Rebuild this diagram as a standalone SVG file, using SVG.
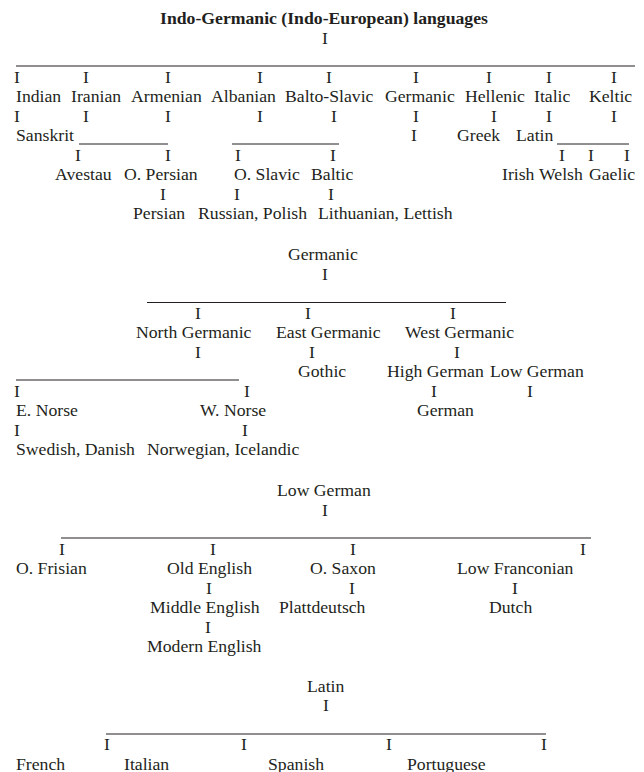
<svg xmlns="http://www.w3.org/2000/svg" width="644" height="772" viewBox="0 0 644 772">
<style>
text{font-family:"Liberation Serif","Times New Roman",serif;font-size:17.7px;fill:#231f20}
.t{font-weight:bold}
.c{text-anchor:middle}
line{stroke:#231f20;stroke-width:1}
</style>
<rect width="644" height="772" fill="#fff"/>
<g id="connectors">
<!-- tree 1 -->
<text class="c" x="325" y="43.5">I</text>
<line x1="16" y1="66" x2="635" y2="66"/>
<text class="c" x="17" y="82.5">I</text><text class="c" x="86" y="82.5">I</text><text class="c" x="168" y="82.5">I</text><text class="c" x="260" y="82.5">I</text><text class="c" x="329" y="82.5">I</text><text class="c" x="416" y="82.5">I</text><text class="c" x="489" y="82.5">I</text><text class="c" x="549" y="82.5">I</text><text class="c" x="614" y="82.5">I</text>
<text class="c" x="17" y="121.5">I</text><text class="c" x="86" y="121.5">I</text><text class="c" x="168" y="121.5">I</text><text class="c" x="260" y="121.5">I</text><text class="c" x="334" y="121.5">I</text><text class="c" x="416" y="121.5">I</text><text class="c" x="494" y="121.5">I</text><text class="c" x="549" y="121.5">I</text><text class="c" x="614" y="121.5">I</text>
<line x1="79" y1="144" x2="168" y2="144"/>
<line x1="232" y1="144" x2="339" y2="144"/>
<text class="c" x="414" y="141">I</text>
<line x1="557" y1="144" x2="629" y2="144"/>
<text class="c" x="78" y="160.5">I</text><text class="c" x="168" y="160.5">I</text><text class="c" x="238" y="160.5">I</text><text class="c" x="333" y="160.5">I</text><text class="c" x="562" y="160.5">I</text><text class="c" x="591" y="160.5">I</text><text class="c" x="627" y="160.5">I</text>
<text class="c" x="163" y="199.5">I</text><text class="c" x="237" y="199.5">I</text><text class="c" x="331" y="199.5">I</text>
<!-- tree 2 -->
<text class="c" x="325" y="279.5">I</text>
<line x1="147" y1="302.5" x2="506" y2="302.5"/>
<text class="c" x="198" y="318.5">I</text><text class="c" x="308" y="318.5">I</text><text class="c" x="453" y="318.5">I</text>
<text class="c" x="198" y="357.5">I</text><text class="c" x="312" y="357.5">I</text><text class="c" x="457" y="357.5">I</text>
<line x1="16" y1="380" x2="239" y2="380"/>
<text class="c" x="17" y="396.5">I</text><text class="c" x="247" y="396.5">I</text><text class="c" x="434" y="396.5">I</text><text class="c" x="530" y="396.5">I</text>
<text class="c" x="17" y="435.5">I</text><text class="c" x="245" y="435.5">I</text>
<!-- tree 3 -->
<text class="c" x="325" y="515.5">I</text>
<line x1="61" y1="538" x2="591" y2="538"/>
<text class="c" x="62" y="554.5">I</text><text class="c" x="213" y="554.5">I</text><text class="c" x="353" y="554.5">I</text><text class="c" x="583" y="554.5">I</text>
<text class="c" x="209" y="593.5">I</text><text class="c" x="352" y="593.5">I</text><text class="c" x="515" y="593.5">I</text>
<text class="c" x="208" y="632.5">I</text>
<!-- tree 4 -->
<text class="c" x="326" y="710.5">I</text>
<line x1="106" y1="734" x2="546" y2="734"/>
<text class="c" x="107" y="750">I</text><text class="c" x="244" y="750">I</text><text class="c" x="389" y="750">I</text><text class="c" x="544" y="750">I</text>
</g>
<g id="n-title"><text class="t" x="160" y="24">Indo-Germanic (Indo-European) languages</text></g>
<g id="n-indian"><text x="16" y="102">Indian</text></g>
<g id="n-iranian"><text x="71" y="102">Iranian</text></g>
<g id="n-armenian"><text x="131" y="102">Armenian</text></g>
<g id="n-albanian"><text x="211" y="102">Albanian</text></g>
<g id="n-baltoslavic"><text x="285" y="102">Balto-Slavic</text></g>
<g id="n-germanic1"><text x="385" y="102">Germanic</text></g>
<g id="n-hellenic"><text x="465" y="102">Hellenic</text></g>
<g id="n-italic"><text x="534" y="102">Italic</text></g>
<g id="n-keltic"><text x="589" y="102">Keltic</text></g>
<g id="n-sanskrit"><text x="16" y="141">Sanskrit</text></g>
<g id="n-greek"><text x="457" y="141">Greek</text></g>
<g id="n-latin1"><text x="516" y="141">Latin</text></g>
<g id="n-avestau"><text x="55" y="180">Avestau</text></g>
<g id="n-opersian"><text x="124" y="180">O. Persian</text></g>
<g id="n-oslavic"><text x="234" y="180">O. Slavic</text></g>
<g id="n-baltic"><text x="311" y="180">Baltic</text></g>
<g id="n-irish"><text x="502" y="180">Irish</text></g>
<g id="n-welsh"><text x="539" y="180">Welsh</text></g>
<g id="n-gaelic"><text x="589" y="180">Gaelic</text></g>
<g id="n-persian"><text x="133" y="219">Persian</text></g>
<g id="n-russian"><text x="198" y="219">Russian, Polish</text></g>
<g id="n-lithuanian"><text x="318" y="219">Lithuanian, Lettish</text></g>
<g id="n-germanic2"><text x="288" y="260">Germanic</text></g>
<g id="n-northgermanic"><text x="136" y="338">North Germanic</text></g>
<g id="n-eastgermanic"><text x="276" y="338">East Germanic</text></g>
<g id="n-westgermanic"><text x="405" y="338">West Germanic</text></g>
<g id="n-gothic"><text x="298" y="377">Gothic</text></g>
<g id="n-highgerman"><text x="387" y="377">High German</text></g>
<g id="n-lowgerman1"><text x="490" y="377">Low German</text></g>
<g id="n-enorse"><text x="16" y="416">E. Norse</text></g>
<g id="n-wnorse"><text x="200" y="416">W. Norse</text></g>
<g id="n-german"><text x="417" y="416">German</text></g>
<g id="n-swedish"><text x="16" y="455">Swedish, Danish</text></g>
<g id="n-norwegian"><text x="147" y="455">Norwegian, Icelandic</text></g>
<g id="n-lowgerman2"><text x="277" y="496">Low German</text></g>
<g id="n-ofrisian"><text x="16" y="574">O. Frisian</text></g>
<g id="n-oldenglish"><text x="167" y="574">Old English</text></g>
<g id="n-osaxon"><text x="310" y="574">O. Saxon</text></g>
<g id="n-lowfranconian"><text x="457" y="574">Low Franconian</text></g>
<g id="n-middleenglish"><text x="150" y="613">Middle English</text></g>
<g id="n-plattdeutsch"><text x="279" y="613">Plattdeutsch</text></g>
<g id="n-dutch"><text x="489" y="613">Dutch</text></g>
<g id="n-modernenglish"><text x="147" y="652">Modern English</text></g>
<g id="n-latin2"><text x="307" y="692">Latin</text></g>
<g id="n-french"><text x="16" y="769.5">French</text></g>
<g id="n-italian"><text x="124" y="769.5">Italian</text></g>
<g id="n-spanish"><text x="268" y="769.5">Spanish</text></g>
<g id="n-portuguese"><text x="407" y="769.5">Portuguese</text></g>
</svg>
